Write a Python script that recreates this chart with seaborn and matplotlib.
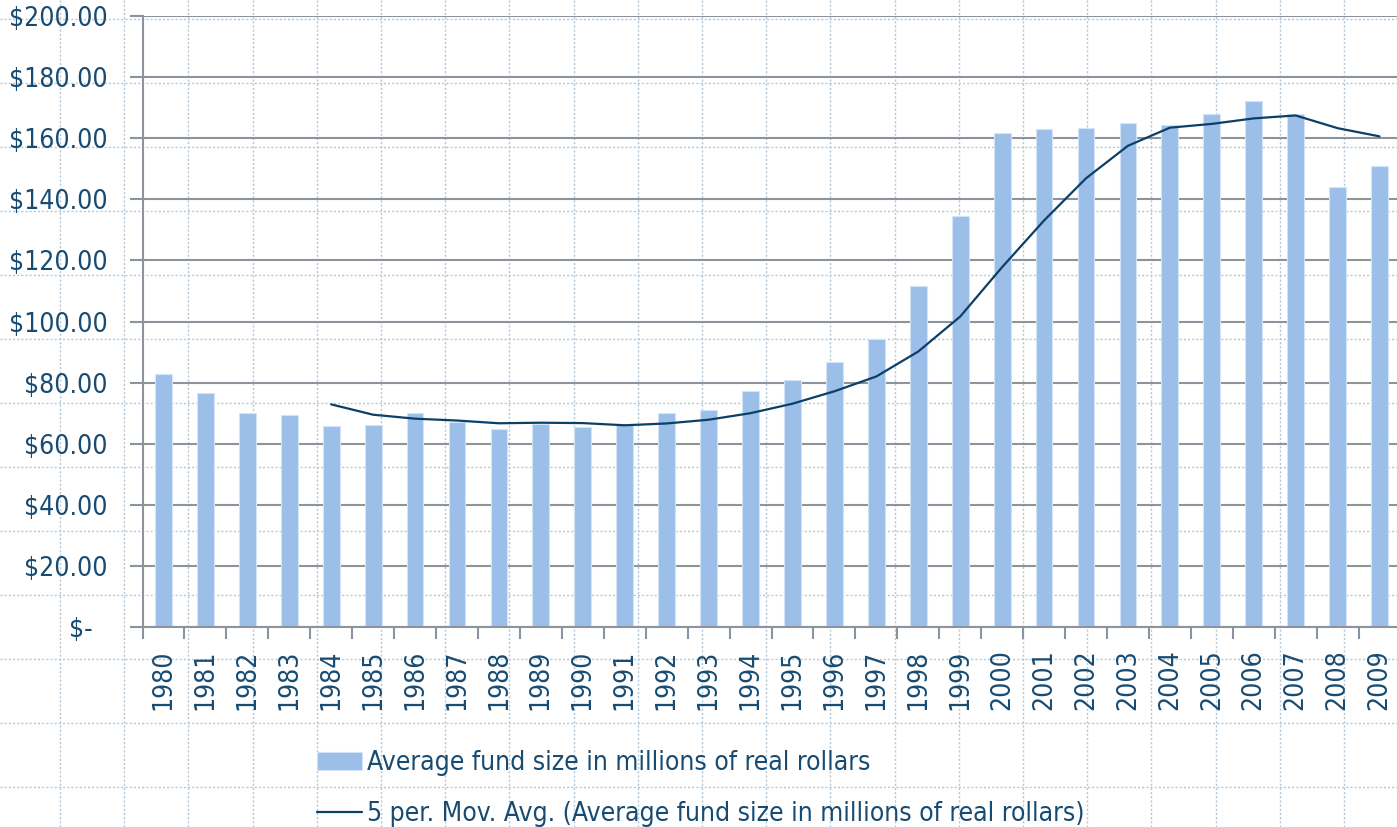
import numpy as np
import pandas as pd
import matplotlib
matplotlib.use("Agg")
import matplotlib.pyplot as plt
import seaborn as sns
from matplotlib.ticker import FixedLocator, FixedFormatter

# data (millions of real dollars)
years = ["1980", "1981", "1982", "1983", "1984", "1985", "1986", "1987", "1988", "1989",
         "1990", "1991", "1992", "1993", "1994", "1995", "1996", "1997", "1998", "1999",
         "2000", "2001", "2002", "2003", "2004", "2005", "2006", "2007", "2008", "2009"]
fund_size = [82.9, 76.5, 70.1, 69.3, 65.7, 66.0, 70.0, 67.1, 64.8, 66.6,
             65.4, 66.4, 70.1, 70.9, 77.3, 80.9, 86.7, 94.3, 111.7, 134.5,
             161.7, 163.0, 163.2, 164.9, 164.1, 167.9, 172.0, 168.0, 144.1, 150.7]
y_ticks = [0, 20, 40, 60, 80, 100, 120, 140, 160, 180, 200]
y_tick_labels = ["$-  ", "$20.00", "$40.00", "$60.00", "$80.00", "$100.00",
                 "$120.00", "$140.00", "$160.00", "$180.00", "$200.00"]
bar_label = "Average fund size in millions of real rollars"
ma_label = "5 per. Mov. Avg. (Average fund size in millions of real rollars)"

df = pd.DataFrame({"year": years, "size": fund_size})
df["pos"] = np.arange(len(df))
df["ma"] = df["size"].rolling(5).mean()

# colours
bar_color = "#9BBFE8"
line_color = "#0C3F66"
text_color = "#174B72"
grid_gray = "#8C939C"
sheet_color = "#B3C7D6"

sns.set_theme(style="white")
plt.rcParams["font.family"] = ["DejaVu Sans"]
plt.rcParams["font.stretch"] = "condensed"
FS = 19

W, H = 1397, 827
fig = plt.figure(figsize=(W / 100, H / 100), dpi=100)

# spreadsheet cell grid behind the chart
bg = fig.add_axes([0, 0, 1, 1], zorder=-5)
bg.set_xlim(0, W)
bg.set_ylim(H, 0)
bg.axis("off")
for k in range(22):
    bg.axvline(60 + 64.2 * k, color=sheet_color, lw=1.0, ls=(0, (1.5, 1.5)))
for k in range(13):
    bg.axhline(19 + 64.0 * k, color=sheet_color, lw=1.0, ls=(0, (1.5, 1.5)))

left, right, top, bottom = 142.5, 1400.5, 15.7, 627.3
ax = fig.add_axes([left / W, 1 - bottom / H, (right - left) / W, (bottom - top) / H])
ax.set_facecolor("none")

sns.barplot(data=df, x="year", y="size", color=bar_color, width=0.4,
            edgecolor="#D3E4F6", linewidth=0.8, saturation=1, ax=ax,
            label=bar_label, zorder=3)
sns.lineplot(data=df.dropna(), x="pos", y="ma", color=line_color, lw=1.6,
             ax=ax, label=ma_label, zorder=4)

ax.set_xlim(-0.5, len(years) - 0.5)
ax.set_ylim(0, 200)
ax.set_xlabel("")
ax.set_ylabel("")

# y axis: gridlines + outward ticks
ax.yaxis.set_major_locator(FixedLocator(y_ticks))
ax.yaxis.set_major_formatter(FixedFormatter(y_tick_labels))
ax.grid(axis="y", color=grid_gray, lw=1.5, zorder=1)
ax.set_axisbelow(True)
ax.tick_params(axis="y", length=9.4, width=1.5, color=grid_gray, direction="out",
               pad=15.5, labelsize=FS, labelcolor=text_color, left=True)

# x axis: labels centred, ticks between categories
ax.xaxis.set_major_locator(FixedLocator(df["pos"].tolist()))
ax.xaxis.set_major_formatter(FixedFormatter(years))
ax.xaxis.set_minor_locator(FixedLocator(list(np.arange(len(years) + 1) - 0.5)))
ax.tick_params(axis="x", which="major", length=0, pad=16, labelsize=FS,
               labelcolor=text_color, labelrotation=90)
ax.tick_params(axis="x", which="minor", length=8.7, width=1.5, color=grid_gray,
               direction="out", bottom=True)

for side in ["top", "right"]:
    ax.spines[side].set_visible(False)
for side in ["left", "bottom"]:
    ax.spines[side].set_color(grid_gray)
    ax.spines[side].set_linewidth(1.5)
    ax.spines[side].set_zorder(5)

handles, labels = ax.get_legend_handles_labels()
order = [labels.index(bar_label), labels.index(ma_label)]
ax.legend([handles[i] for i in order], [labels[i] for i in order],
          loc="upper left", bbox_to_anchor=(317 / W, 1 - 750 / H),
          bbox_transform=fig.transFigure, frameon=False, fontsize=FS,
          borderaxespad=0, borderpad=0, handlelength=1.7, handletextpad=0.2,
          labelspacing=0.95, labelcolor=text_color)

fig.savefig("out.png", dpi=100)
